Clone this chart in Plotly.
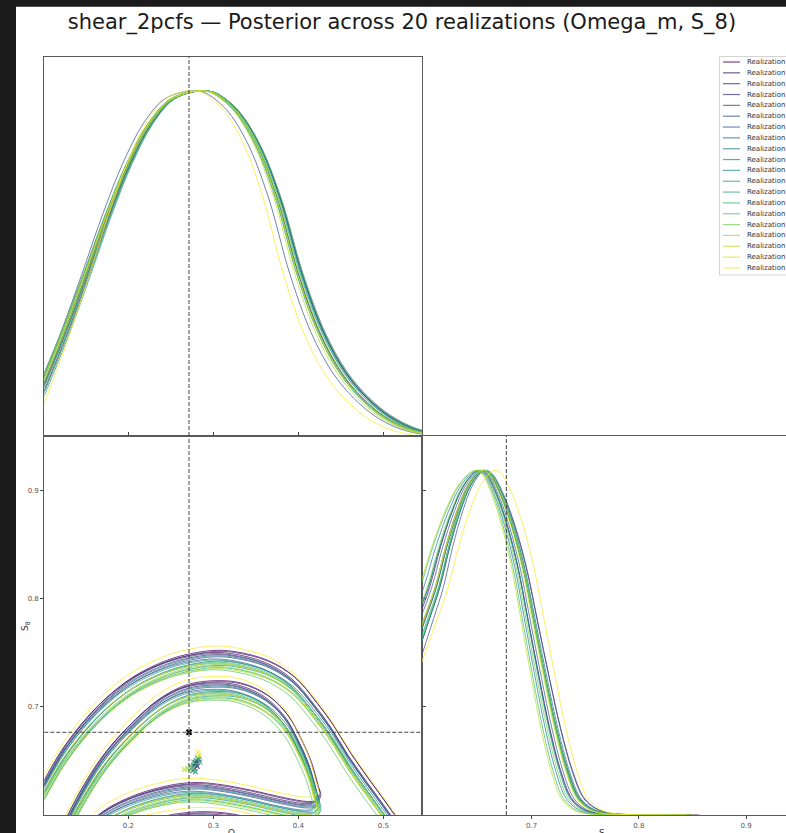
import re
import plotly.graph_objects as go
from plotly.colors import sample_colorscale

W, H = 786, 833

N_REAL = 20
names = [f"Realization {i + 1}" for i in range(N_REAL)]

TRUTH_OM = 0.2714
TRUTH_S8 = 0.6764

# ---- Omega_m marginal: reference profile, normalised to a unit peak
om_grid = [0.085, 0.100, 0.125, 0.150, 0.175, 0.200, 0.225, 0.250, 0.275, 0.2875,
           0.300, 0.325, 0.350, 0.375, 0.400, 0.425, 0.450, 0.475, 0.500, 0.525,
           0.545, 0.560]
om_pdf = [0.07, 0.155, 0.305, 0.47, 0.64, 0.79, 0.905, 0.975, 0.998, 1.0,
          0.995, 0.947, 0.85, 0.69, 0.47, 0.30, 0.185, 0.11, 0.058, 0.025,
          0.01, 0.004]
OM_PEAK = 0.2875
# per realization: peak offset, left / right width factors
om_shift = [0.002, 0.001, 0.000, -0.001, 0.001, -0.010, 0.002, 0.000, 0.001, -0.002,
            0.002, 0.000, 0.001, -0.001, 0.002, 0.000, 0.001, -0.002, 0.000, -0.012]
om_left = [1.00, 0.98, 1.01, 0.99, 1.00, 0.96, 0.98, 1.02, 0.99, 1.00,
           0.97, 1.01, 0.99, 1.00, 0.98, 1.02, 1.00, 0.99, 1.01, 0.88]
om_right = [1.02, 1.03, 1.00, 1.01, 1.04, 1.00, 1.02, 0.99, 1.03, 1.00,
            1.01, 1.02, 0.98, 1.00, 1.03, 0.99, 1.00, 0.98, 0.99, 0.95]

# ---- S_8 marginal
s8_grid = [0.585, 0.600, 0.610, 0.620, 0.630, 0.640, 0.650, 0.655, 0.660, 0.670,
           0.680, 0.690, 0.700, 0.710, 0.720, 0.730, 0.740, 0.750, 0.760, 0.780,
           0.800, 0.840]
s8_pdf = [0.44, 0.57, 0.66, 0.78, 0.88, 0.955, 0.995, 1.0, 0.99, 0.93,
          0.84, 0.72, 0.56, 0.40, 0.25, 0.13, 0.05, 0.02, 0.007, 0.001,
          0.0, 0.0]
S8_PEAK = 0.655
s8_shift = [0.000, -0.003, 0.002, 0.001, -0.002, 0.003, -0.001, 0.002, -0.004, 0.001,
            -0.002, 0.000, 0.003, -0.005, 0.001, -0.003, 0.002, -0.006, 0.000, 0.012]
s8_left = [1.00, 1.05, 0.95, 1.00, 1.10, 0.90, 1.05, 0.95, 1.15, 1.00,
           1.10, 0.92, 1.00, 1.20, 0.95, 1.10, 1.05, 1.20, 1.00, 1.00]
s8_right = [1.05, 1.00, 1.08, 1.03, 0.98, 1.06, 1.00, 1.04, 0.95, 1.02,
            0.97, 1.05, 1.00, 0.93, 1.03, 0.96, 1.00, 0.92, 1.02, 1.00]

# ---- joint (Omega_m, S_8) contours
outer_top_om = [0.085, 0.100, 0.1264, 0.1655, 0.2047, 0.244, 0.2714, 0.2988, 0.3224,
                0.3616, 0.393, 0.4205, 0.440, 0.4597, 0.4793, 0.4988, 0.5087, 0.520]
outer_top_s8 = [0.603, 0.623, 0.658, 0.695, 0.720, 0.735, 0.741, 0.744, 0.743,
                0.735, 0.720, 0.695, 0.674, 0.649, 0.627, 0.606, 0.595, 0.583]
outer_bot_om = [0.16, 0.20, 0.24, 0.28, 0.32, 0.36, 0.40]
outer_bot_s8 = [0.568, 0.583, 0.591, 0.595, 0.593, 0.585, 0.572]
inner_om = [0.125, 0.132, 0.1499, 0.1734, 0.2047, 0.2361, 0.2675, 0.2988, 0.3302,
            0.3616, 0.3852, 0.4008, 0.4126, 0.4205, 0.4235, 0.4190, 0.4087, 0.3812,
            0.342, 0.3028, 0.2753, 0.244, 0.2047, 0.1734, 0.160]
inner_s8 = [0.585, 0.597, 0.623, 0.651, 0.6785, 0.700, 0.7124, 0.716, 0.714,
            0.703, 0.6847, 0.663, 0.6416, 0.620, 0.611, 0.6055, 0.6045, 0.608,
            0.615, 0.6205, 0.622, 0.619, 0.610, 0.598, 0.590]
ctr_dom = [0.002, -0.001, 0.003, 0.000, -0.002, 0.001, -0.003, 0.002, 0.000, -0.001,
           0.003, -0.002, 0.001, 0.000, -0.003, 0.002, -0.001, 0.001, -0.002, 0.000]
ctr_ds8 = [0.008, 0.006, 0.007, 0.004, 0.005, 0.002, 0.000, -0.002, 0.003, -0.004,
           -0.006, -0.001, -0.008, -0.003, -0.010, -0.005, -0.007, -0.009, -0.004, 0.012]

# ---- posterior means per realization
mean_om = [0.279, 0.281, 0.280, 0.277, 0.283, 0.278, 0.276, 0.280, 0.282, 0.275,
           0.279, 0.284, 0.277, 0.273, 0.281, 0.276, 0.270, 0.266, 0.283, 0.282]
mean_s8 = [0.648, 0.645, 0.650, 0.646, 0.651, 0.643, 0.641, 0.647, 0.652, 0.644,
           0.640, 0.649, 0.649, 0.645, 0.653, 0.643, 0.643, 0.642, 0.655, 0.658]


def px(x):
    return x / W


def py(y):
    return 1 - y / H


def rgba(c, a):
    r, g, b = [int(float(v)) for v in re.findall(r"[\d.]+", c)[:3]]
    return f"rgba({r},{g},{b},{a})"


def warp(grid, peak, dp, sl, sr):
    return [peak + dp + (g - peak) * (sl if g < peak else sr) for g in grid]


cols = sample_colorscale("Viridis", [i / (N_REAL - 1) for i in range(N_REAL)])
line_cols = [rgba(c, 0.72) for c in cols]

FONT = "DejaVu Sans"
fig = go.Figure()

for i in range(N_REAL):
    c = line_cols[i]
    fig.add_trace(go.Scatter(
        x=warp(om_grid, OM_PEAK, om_shift[i], om_left[i], om_right[i]), y=om_pdf,
        mode="lines", line=dict(color=c, width=1, shape="spline"),
        xaxis="x", yaxis="y", name=names[i], showlegend=False, hoverinfo="skip"))
    fig.add_trace(go.Scatter(
        x=warp(s8_grid, S8_PEAK, s8_shift[i], s8_left[i], s8_right[i]), y=s8_pdf,
        mode="lines", line=dict(color=c, width=1, shape="spline"),
        xaxis="x3", yaxis="y3", name=names[i], showlegend=False, hoverinfo="skip"))
    cx, cy = [], []
    for seg_x, seg_y in ((outer_top_om, outer_top_s8), (outer_bot_om, outer_bot_s8),
                         (inner_om, inner_s8)):
        cx += [v + ctr_dom[i] for v in seg_x] + [None]
        cy += [v + ctr_ds8[i] for v in seg_y] + [None]
    fig.add_trace(go.Scatter(
        x=cx, y=cy, mode="lines", line=dict(color=c, width=1, shape="spline"),
        connectgaps=False, xaxis="x2", yaxis="y2", name=names[i],
        showlegend=False, hoverinfo="skip"))

fig.add_trace(go.Scatter(
    x=mean_om, y=mean_s8, mode="markers",
    marker=dict(symbol="x-thin", size=5, line=dict(width=1.3, color=line_cols)),
    xaxis="x2", yaxis="y2", showlegend=False, hoverinfo="skip"))
fig.add_trace(go.Scatter(
    x=[TRUTH_OM], y=[TRUTH_S8], mode="markers",
    marker=dict(symbol="x-thin", size=5, line=dict(width=2.2, color="black")),
    xaxis="x2", yaxis="y2", showlegend=False, hoverinfo="skip"))

shapes = [
    # white figure canvas over the dark page
    dict(type="rect", xref="paper", yref="paper", x0=px(16), x1=1.02, y0=-0.02, y1=py(6.7),
         fillcolor="white", line=dict(width=0), layer="below"),
]
dash = dict(color="#444", width=1, dash="4px,2px")
shapes += [
    dict(type="line", xref="x", yref="y domain", x0=TRUTH_OM, x1=TRUTH_OM, y0=0, y1=1, line=dash),
    dict(type="line", xref="x2", yref="y2 domain", x0=TRUTH_OM, x1=TRUTH_OM, y0=0, y1=1, line=dash),
    dict(type="line", xref="x2 domain", yref="y2", x0=0, x1=1, y0=TRUTH_S8, y1=TRUTH_S8, line=dash),
    dict(type="line", xref="x3", yref="y3 domain", x0=TRUTH_S8, x1=TRUTH_S8, y0=0, y1=1, line=dash),
]

# legend box with one entry per realization
LEG_TOP, LEG_STEP = 62.0, 10.84
shapes.append(dict(type="rect", xref="paper", yref="paper", x0=px(719.5), x1=px(800),
                   y0=py(275), y1=py(56.5), fillcolor="white",
                   line=dict(color="#d4d4d4", width=1)))
annotations = []
for i in range(N_REAL):
    yy = LEG_TOP + i * LEG_STEP
    shapes.append(dict(type="line", xref="paper", yref="paper", x0=px(723), x1=px(740),
                       y0=py(yy), y1=py(yy), line=dict(color=line_cols[i], width=1.2)))
    annotations.append(dict(text=names[i], xref="paper", yref="paper", x=px(745), y=py(yy),
                            xanchor="left", yanchor="middle", showarrow=False,
                            font=dict(family=FONT, size=7, color="#333")))

annotations += [
    dict(text="Ω<sub>m</sub>", xref="paper", yref="paper", x=px(235), y=py(825.5),
         xanchor="center", yanchor="top", showarrow=False,
         font=dict(family=FONT, size=9, color="#333")),
    dict(text="S<sub>8</sub>", xref="paper", yref="paper", x=px(604), y=py(825.5),
         xanchor="center", yanchor="top", showarrow=False,
         font=dict(family=FONT, size=9, color="#333")),
    dict(text="S<sub>8</sub>", xref="paper", yref="paper", x=px(25), y=py(626),
         xanchor="center", yanchor="middle", textangle=-90, showarrow=False,
         font=dict(family=FONT, size=9, color="#333")),
]

AX_LINE = dict(showline=True, linecolor="#5a5a5a", linewidth=1.2, showgrid=False,
               zeroline=False)
TICKF = dict(family=FONT, size=7, color="#555")
X_LEFT = [px(44.3), px(422)]
Y_TOP = [py(436), py(56.5)]
Y_BOT = [py(815), py(436)]
OM_RANGE = [0.1012, 0.5455]

fig.update_layout(
    width=W, height=H,
    margin=dict(l=0, r=0, t=0, b=0),
    paper_bgcolor="#1b1b1b", plot_bgcolor="white",
    title=dict(text="shear_2pcfs — Posterior across 20 realizations (Omega_m, S_8)",
               x=px(402), xanchor="center", y=py(22), yanchor="middle",
               font=dict(family=FONT, size=21, color="#1a1a1a")),
    xaxis=dict(domain=X_LEFT, range=OM_RANGE, anchor="y", showticklabels=False,
               ticks="", mirror=True, **AX_LINE),
    yaxis=dict(domain=Y_TOP, range=[0, 1.1], anchor="x", showticklabels=False,
               ticks="", mirror=True, **AX_LINE),
    xaxis2=dict(domain=X_LEFT, range=OM_RANGE, anchor="y2",
                tickvals=[0.2, 0.3, 0.4, 0.5], ticktext=["0.2", "0.3", "0.4", "0.5"],
                ticks="outside", ticklen=3, tickcolor="#444", tickwidth=1,
                mirror="ticks", tickfont=TICKF, **AX_LINE),
    yaxis2=dict(domain=Y_BOT, range=[0.6, 0.95], anchor="x2",
                tickvals=[0.7, 0.8, 0.9], ticktext=["0.7", "0.8", "0.9"],
                ticks="outside", ticklen=3, tickcolor="#444", tickwidth=1,
                mirror="ticks", tickfont=TICKF, **AX_LINE),
    xaxis3=dict(domain=[px(422), 1.0], range=[0.5977, 0.9373], anchor="y3",
                tickvals=[0.7, 0.8, 0.9], ticktext=["0.7", "0.8", "0.9"],
                ticks="outside", ticklen=3, tickcolor="#444", tickwidth=1,
                mirror=True, tickfont=TICKF, **AX_LINE),
    yaxis3=dict(domain=Y_BOT, range=[0, 1.1], anchor="x3", showticklabels=False,
                ticks="", mirror=False, **AX_LINE),
    shapes=shapes,
    annotations=annotations,
    showlegend=False,
)

fig.write_html("out.html")
